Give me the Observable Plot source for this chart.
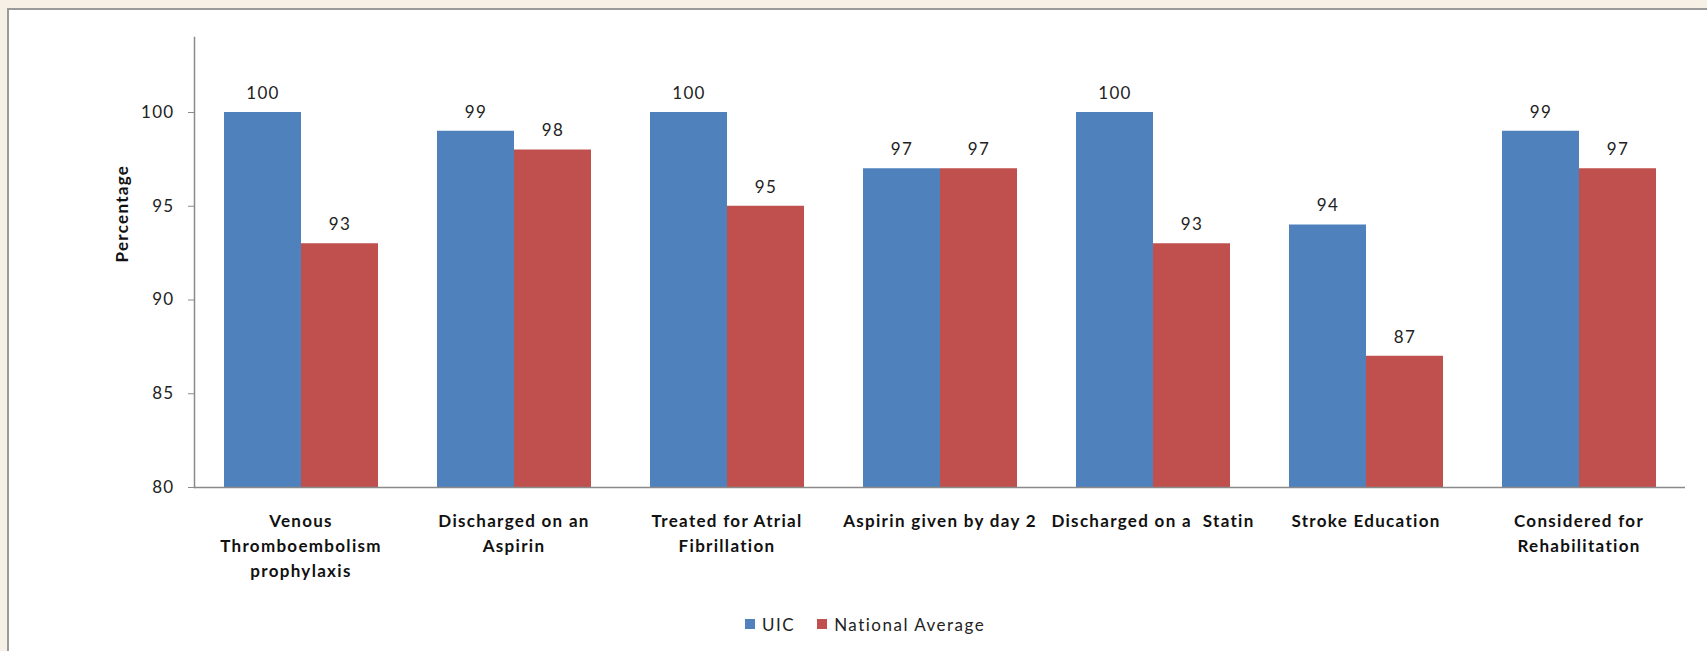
<!DOCTYPE html>
<html>
<head>
<meta charset="utf-8">
<script src="https://cdn.jsdelivr.net/npm/d3@7"></script>
<script src="https://cdn.jsdelivr.net/npm/@observablehq/plot@0.6"></script>
<style>
  html, body { margin: 0; padding: 0; background: #f7f0e6; overflow: hidden; }
  #panel {
    position: absolute; left: 7px; top: 8px; width: 1720px; height: 660px;
    background: #ffffff; border-left: 2px solid #9a9a9a; border-top: 2px solid #9a9a9a;
  }
  #chart svg text { letter-spacing: 1.3px; }
  #legend {
    display: flex; align-items: center; height: 28px; margin-left: 736px;
    font-family: Lato, sans-serif; font-size: 17px; color: #222;
  }
  #legend .sw { width: 10px; height: 10px; margin-right: 7px; }
  #legend .item { display: flex; align-items: center; margin-right: 22px; letter-spacing: 1.5px; }
</style>
</head>
<body>
<div id="panel"><div id="chart"></div><div id="legend"></div></div>
<script>
const categories = [
  "Venous Thromboembolism prophylaxis",
  "Discharged on an Aspirin",
  "Treated for Atrial Fibrillation",
  "Aspirin given by day 2",
  "Discharged on a  Statin",
  "Stroke Education",
  "Considered for Rehabilitation"
];
const tickLabels = [
  "Venous\nThromboembolism\nprophylaxis",
  "Discharged on an\nAspirin",
  "Treated for Atrial\nFibrillation",
  "Aspirin given by day 2",
  "Discharged on a  Statin",
  "Stroke Education",
  "Considered for\nRehabilitation"
];
const uic = [100, 99, 100, 97, 100, 94, 99];
const national = [93, 98, 95, 97, 93, 87, 97];
const series = ["UIC", "National Average"];
const colors = ["#4f81bd", "#c0504d"];
const yTicks = [80, 85, 90, 95, 100];
const yDomain = [80, 104];
const yLabel = "Percentage";

const data = categories.flatMap((c, i) => [
  {category: c, series: series[0], value: uic[i]},
  {category: c, series: series[1], value: national[i]}
]);

const chart = Plot.plot({
  width: 1698,
  height: 600,
  marginLeft: 184,
  marginRight: 22,
  marginTop: 27,
  marginBottom: 123,
  style: {fontFamily: "Lato, sans-serif", fontSize: "17px", background: "transparent", overflow: "visible", color: "#222"},
  fx: {domain: categories, padding: 0, label: null},
  x: {domain: series, paddingInner: 0, paddingOuter: 0.373, axis: null},
  y: {domain: yDomain, clamp: true},
  color: {domain: series, range: colors},
  marks: [
    Plot.barY(data, {fx: "category", x: "series", y: "value", fill: "series"}),
    Plot.ruleY([yDomain[0]], {stroke: "#8a8a8a", strokeWidth: 1.5}),
    Plot.frame({anchor: "left", facetAnchor: "left", stroke: "#8a8a8a", strokeWidth: 1.5}),
    Plot.axisY({ticks: yTicks, tickSize: 6, tickPadding: 14, stroke: "#8a8a8a", fill: "#222", label: null, fontSize: 17}),
    Plot.axisFx({anchor: "bottom", tickSize: 0, tickPadding: 22, label: null,
      tickFormat: c => tickLabels[categories.indexOf(c)], fontWeight: "bold", lineHeight: 1.47, fill: "#111", fontSize: 17}),
    Plot.text(data, {fx: "category", x: "series", y: "value", text: d => String(d.value), dy: -19, fill: "#222", fontSize: 17}),
    Plot.text([yLabel], {fx: () => categories[0], frameAnchor: "left", rotate: -90, dx: -72, fontWeight: "bold", fill: "#111", fontSize: 17})
  ]
});
document.getElementById("chart").appendChild(chart);

const legend = document.getElementById("legend");
series.forEach((s, i) => {
  const item = document.createElement("div");
  item.className = "item";
  const sw = document.createElement("div");
  sw.className = "sw";
  sw.style.background = colors[i];
  const t = document.createElement("span");
  t.textContent = s;
  item.appendChild(sw);
  item.appendChild(t);
  legend.appendChild(item);
});
</script>
</body>
</html>
